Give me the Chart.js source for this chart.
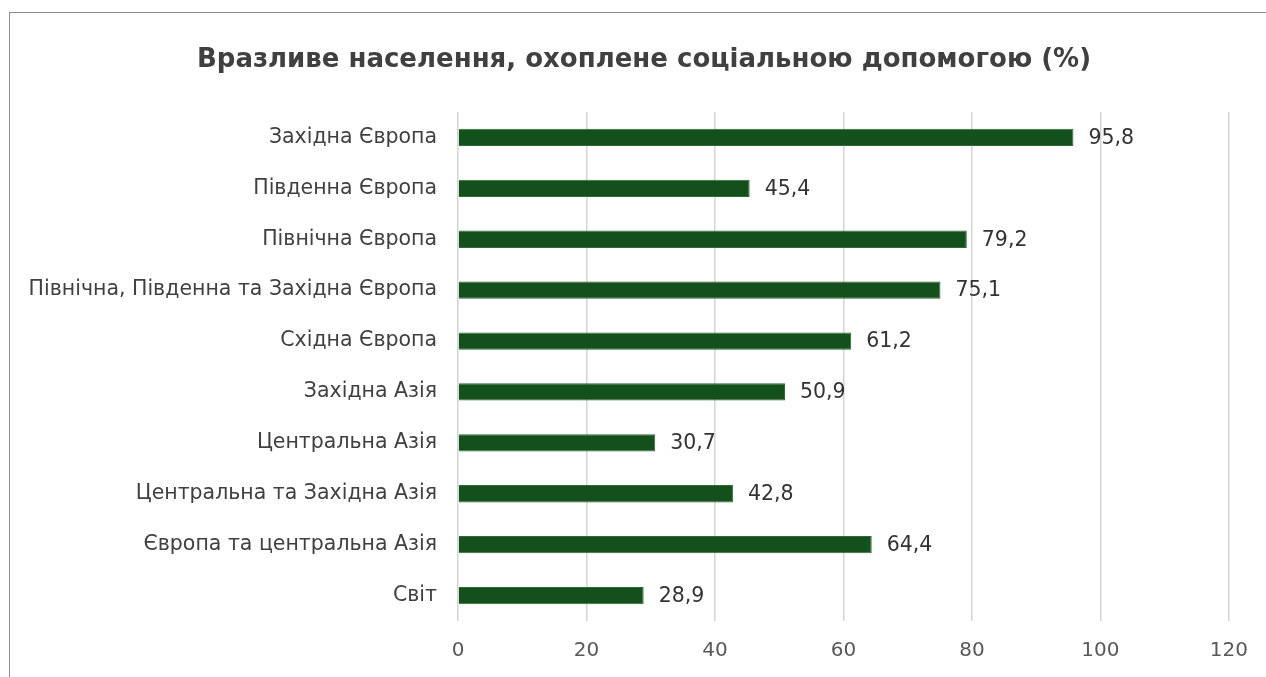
<!DOCTYPE html>
<html>
<head>
<meta charset="utf-8">
<script src="https://cdn.jsdelivr.net/npm/chart.js@4"></script>
<style>
  html, body { margin: 0; padding: 0; background: #fff; overflow: hidden; }
  #wrap { position: relative; width: 1266px; height: 677px; }
  #frame { position: absolute; left: 9px; top: 12px; width: 1300px; height: 700px; border: 1.5px solid #8c8c8c; }
  canvas { position: absolute; left: 0; top: 0; }
</style>
</head>
<body>
<div id="wrap">
  <div id="frame"></div>
  <canvas id="chart" width="1266" height="677"></canvas>
</div>
<script>
// regions, top to bottom as in the picture
const regions = [
  'Західна Європа',
  'Південна Європа',
  'Північна Європа',
  'Північна, Південна та Західна Європа',
  'Східна Європа',
  'Західна Азія',
  'Центральна Азія',
  'Центральна та Західна Азія',
  'Європа та центральна Азія',
  'Світ',
];
const coverage = [95.8, 45.4, 79.2, 75.1, 61.2, 50.9, 30.7, 42.8, 64.4, 28.9];
const xTicks = [0, 20, 40, 60, 80, 100, 120];
const chartTitle = 'Вразливе населення, охоплене соціальною допомогою (%)';

const labelFont = '"DejaVu Sans", Verdana, sans-serif';

// title is centred on the frame, not on the plot, so draw it by hand
const frameTitle = {
  id: 'frameTitle',
  afterDraw(chart) {
    const ctx = chart.ctx;
    ctx.save();
    ctx.font = 'bold 26px ' + labelFont;
    ctx.fillStyle = '#404040';
    ctx.textAlign = 'center';
    ctx.textBaseline = 'middle';
    ctx.fillText(chartTitle, 644, 60);
    ctx.restore();
  },
};

// values drawn at the end of each bar, comma as decimal mark
const barValues = {
  id: 'barValues',
  afterDatasetsDraw(chart) {
    const ctx = chart.ctx;
    const meta = chart.getDatasetMeta(0);
    ctx.save();
    ctx.font = '20.5px ' + labelFont;
    ctx.fillStyle = '#333333';
    ctx.textBaseline = 'middle';
    meta.data.forEach((bar, i) => {
      const txt = coverage[i].toFixed(1).replace('.', ',');
      ctx.fillText(txt, bar.x + 15, bar.y + 1);
    });
    ctx.restore();
  },
};

const ctx = document.getElementById('chart').getContext('2d');
new Chart(ctx, {
  type: 'bar',
  data: {
    labels: regions,
    datasets: [
      {
        label: 'Вразливе населення',
        data: coverage,
        backgroundColor: '#14501b',
        borderColor: '#2f6a34',
        borderWidth: 1,
        barPercentage: 0.34,
        categoryPercentage: 1,
      },
    ],
  },
  options: {
    indexAxis: 'y',
    responsive: false,
    animation: false,
    layout: { padding: { left: 14, right: 36, top: 112, bottom: 16 } },
    plugins: {
      legend: { display: false },
      tooltip: { enabled: false },
      title: { display: false },
    },
    scales: {
      x: {
        min: 0,
        max: 120,
        afterBuildTicks: (scale) => {
          scale.ticks = xTicks.map((v) => ({ value: v }));
        },
        afterFit: (scale) => {
          scale.height = 40;
        },
        border: { display: false },
        grid: { color: '#d4d4d4', lineWidth: 1.5, drawTicks: false },
        ticks: { color: '#595959', padding: 18, font: { family: labelFont, size: 20 } },
      },
      y: {
        afterFit: (scale) => {
          scale.width = 444;
        },
        border: { display: false },
        grid: { display: false, drawTicks: false },
        ticks: { color: '#404040', padding: 21, font: { family: labelFont, size: 20.5 } },
      },
    },
  },
  plugins: [barValues, frameTitle],
});
</script>
</body>
</html>
